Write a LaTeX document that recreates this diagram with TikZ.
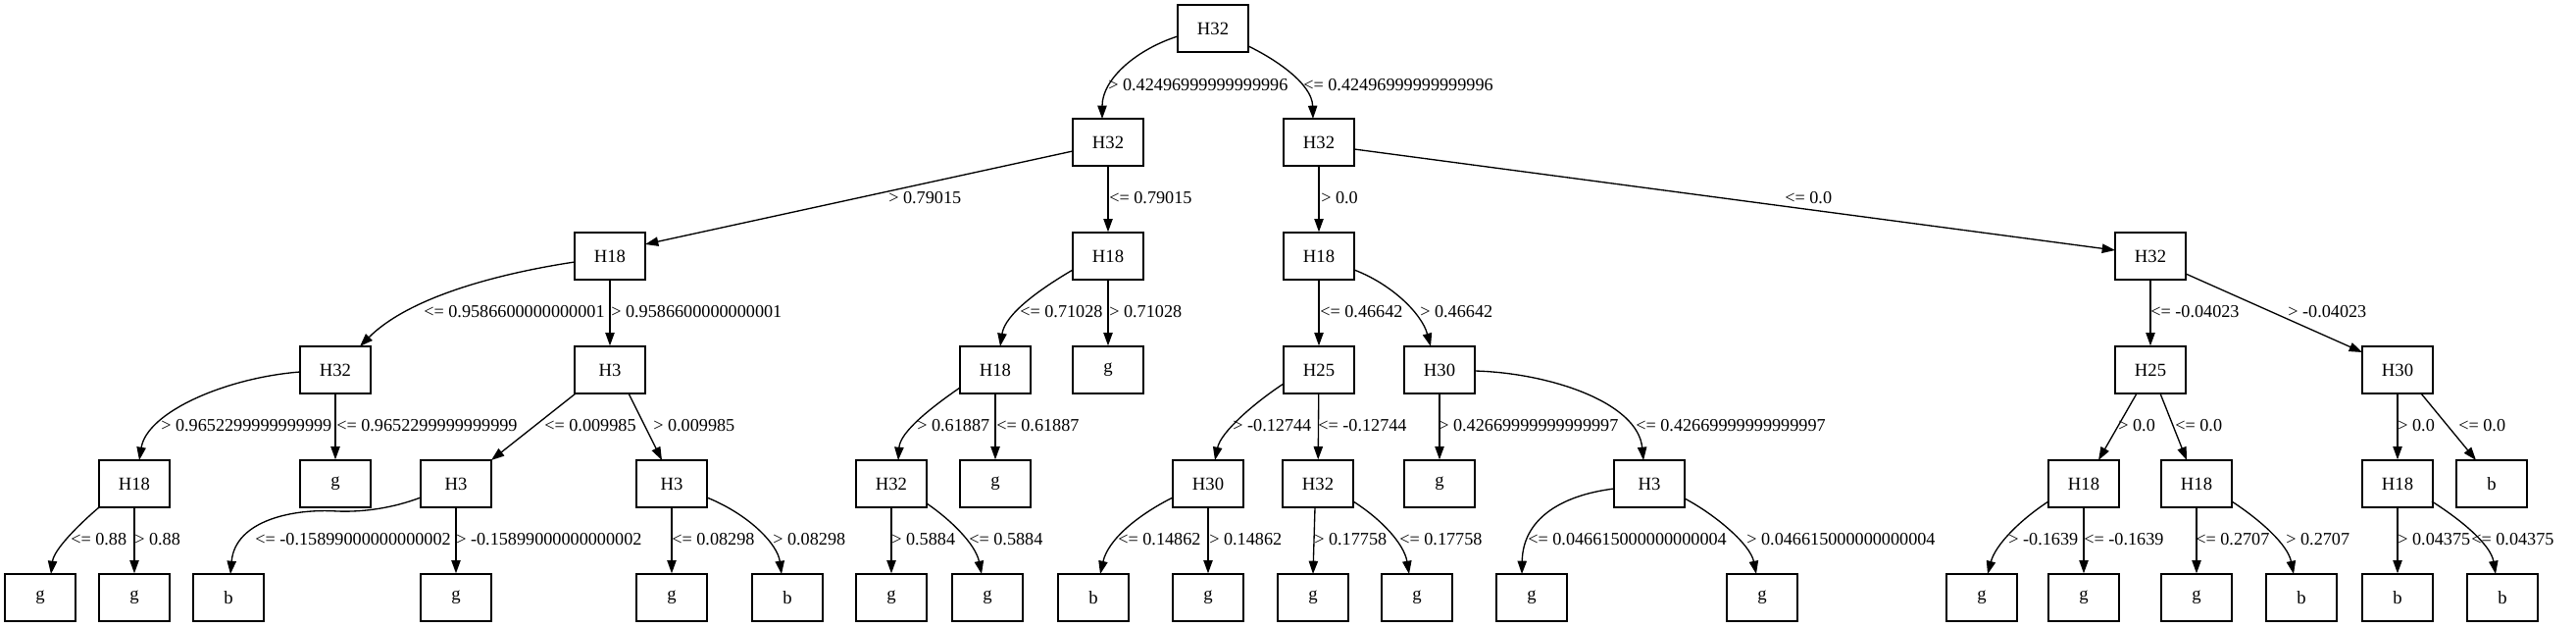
\documentclass[tikz,border=0pt]{standalone}
\usepackage{fontspec}
\setmainfont{Liberation Serif}
\usetikzlibrary{arrows.meta,calc}
\begin{document}
\begin{tikzpicture}[x=0.75pt,y=-0.75pt,
  box/.style={draw,line width=1pt,minimum width=54pt,minimum height=36pt,inner sep=0pt,font=\fontsize{14}{16}\selectfont},
  lbl/.style={inner sep=0pt,anchor=west,font=\fontsize{13.65}{16}\selectfont},
  edge/.style={draw,line width=1pt,-{Triangle[length=10pt,width=7pt]}}]
\useasboundingbox[fill=white] (0,0) rectangle (2627,639);
% level 0-2
\node[box] (n0) at (1237,29) {H32};
\node[box] (n1) at (1130,145) {H32};
\node[box] (n2) at (1345,145) {H32};
\node[box] (n3) at (622,261) {H18};
\node[box] (n4) at (1130,261) {H18};
\node[box] (n5) at (1345,261) {H18};
\node[box] (n6) at (2193,261) {H32};
% level 3
\node[box] (n7) at (342,377) {H32};
\node[box] (n8) at (622,377) {H3};
\node[box] (n9) at (1015,377) {H18};
\node[box] (n10) at (1130,377) {g};
\node[box] (n11) at (1345,377) {H25};
\node[box] (n12) at (1468,377) {H30};
\node[box] (n13) at (2193,377) {H25};
\node[box] (n14) at (2445,377) {H30};
% level 4
\node[box] (n15) at (137,493) {H18};
\node[box] (n16) at (342,493) {g};
\node[box] (n17) at (465,493) {H3};
\node[box] (n18) at (685,493) {H3};
\node[box] (n19) at (909,493) {H32};
\node[box] (n20) at (1015,493) {g};
\node[box] (n21) at (1232,493) {H30};
\node[box] (n22) at (1344,493) {H32};
\node[box] (n23) at (1468,493) {g};
\node[box] (n24) at (1682,493) {H3};
\node[box] (n25) at (2125,493) {H18};
\node[box] (n26) at (2240,493) {H18};
\node[box] (n27) at (2445,493) {H18};
\node[box] (n28) at (2541,493) {b};
% level 5
\node[box] (n29) at (41,609) {g};
\node[box] (n30) at (137,609) {g};
\node[box] (n31) at (233,609) {b};
\node[box] (n32) at (465,609) {g};
\node[box] (n33) at (685,609) {g};
\node[box] (n34) at (803,609) {b};
\node[box] (n35) at (909,609) {g};
\node[box] (n36) at (1007,609) {g};
\node[box] (n37) at (1115,609) {b};
\node[box] (n38) at (1232,609) {g};
\node[box] (n39) at (1339,609) {g};
\node[box] (n40) at (1445,609) {g};
\node[box] (n41) at (1562,609) {g};
\node[box] (n42) at (1797,609) {g};
\node[box] (n43) at (2021,609) {g};
\node[box] (n44) at (2125,609) {g};
\node[box] (n45) at (2240,609) {g};
\node[box] (n46) at (2347,609) {b};
\node[box] (n47) at (2445,609) {b};
\node[box] (n48) at (2552,609) {b};

% edges level 0-1
\draw[edge] ($(n0)+(-36,8)$) .. controls (1160,50) and (1124,80) .. ($(n1)+(-6,-24)$);
\draw[edge] ($(n0)+(36,18)$) .. controls (1300,60) and (1338,85) .. ($(n2)+(-6,-24)$);
% level 1-2
\draw[edge] ($(n1)+(-36,9)$) -- ($(n3)+(36,-12)$);
\draw[edge] (n1) -- (n4);
\draw[edge] (n2) -- (n5);
\draw[edge] ($(n2)+(36,7)$) -- ($(n6)+(-36,-6)$);
% level 2-3
\draw[edge] ($(n3)+(-36,6)$) .. controls (500,280) and (415,305) .. ($(n7)+(25,-24)$);
\draw[edge] (n3) -- (n8);
\draw[edge] ($(n4)+(-36,14)$) .. controls (1060,295) and (1025,320) .. ($(n9)+(5,-24)$);
\draw[edge] (n4) -- (n10);
\draw[edge] (n5) -- (n11);
\draw[edge] ($(n5)+(36,14)$) .. controls (1420,290) and (1450,320) .. ($(n12)+(-9,-24)$);
\draw[edge] (n6) -- (n13);
\draw[edge] ($(n6)+(36,18)$) -- ($(n14)+(-36,-18)$);
% level 3-4
\draw[edge] ($(n7)+(-36,2)$) .. controls (230,385) and (150,420) .. ($(n15)+(5,-24)$);
\draw[edge] (n7) -- (n16);
\draw[edge] ($(n8)+(-35,24)$) -- ($(n17)+(36,-24)$);
\draw[edge] ($(n8)+(19,24)$) -- ($(n18)+(-10,-24)$);
\draw[edge] ($(n9)+(-36,18)$) .. controls (950,415) and (918,440) .. ($(n19)+(7,-24)$);
\draw[edge] (n9) -- (n20);
\draw[edge] ($(n11)+(-36,14)$) .. controls (1280,410) and (1245,440) .. ($(n21)+(7,-24)$);
\draw[edge] (n11) -- (n22);
\draw[edge] (n12) -- (n23);
\draw[edge] ($(n12)+(36,1)$) .. controls (1580,380) and (1670,410) .. ($(n24)+(-6,-24)$);
\draw[edge] ($(n13)+(-14,24)$) -- ($(n25)+(15,-24)$);
\draw[edge] ($(n13)+(10,24)$) -- ($(n26)+(-10,-24)$);
\draw[edge] (n14) -- (n27);
\draw[edge] ($(n14)+(24,24)$) -- ($(n28)+(-16,-24)$);
% level 4-5
\draw[edge] ($(n15)+(-36,24)$) .. controls (80,535) and (55,560) .. ($(n29)+(11,-24)$);
\draw[edge] (n15) -- (n30);
\draw[edge] ($(n17)+(-36,14)$) .. controls (400,518) and (370,522) .. (344,521) .. controls (300,518) and (240,530) .. ($(n31)+(2,-24)$);
\draw[edge] (n17) -- (n32);
\draw[edge] (n18) -- (n33);
\draw[edge] ($(n18)+(36,14)$) .. controls (765,525) and (793,555) .. ($(n34)+(-6,-24)$);
\draw[edge] (n19) -- (n35);
\draw[edge] ($(n19)+(36,20)$) .. controls (970,530) and (995,555) .. ($(n36)+(-6,-24)$);
\draw[edge] ($(n21)+(-36,14)$) .. controls (1160,525) and (1130,550) .. ($(n37)+(7,-24)$);
\draw[edge] (n21) -- (n38);
\draw[edge] ($(n22)+(-3,24)$) -- ($(n39)+(0,-24)$);
\draw[edge] ($(n22)+(36,18)$) .. controls (1410,530) and (1432,555) .. ($(n40)+(-8,-24)$);
\draw[edge] ($(n24)+(-36,5)$) .. controls (1590,505) and (1553,530) .. ($(n41)+(-10,-24)$);
\draw[edge] ($(n24)+(36,15)$) .. controls (1750,525) and (1785,555) .. ($(n42)+(-6,-24)$);
\draw[edge] ($(n25)+(-36,18)$) .. controls (2060,530) and (2035,555) .. ($(n43)+(6,-24)$);
\draw[edge] (n25) -- (n44);
\draw[edge] (n26) -- (n45);
\draw[edge] ($(n26)+(36,18)$) .. controls (2305,530) and (2333,555) .. ($(n46)+(-8,-24)$);
\draw[edge] (n27) -- (n47);
\draw[edge] ($(n27)+(35,18)$) .. controls (2510,530) and (2540,555) .. ($(n48)+(-7,-24)$);

% labels
\node[lbl] (a1) at (1130,87) {> 0.42496999999999996};
\node[lbl] (a2) at (1329,87) {<= 0.42496999999999996};
\node[lbl] (b1) at (906,202) {> 0.79015};
\node[lbl] (b2) at (1131,202) {<= 0.79015};
\node[lbl] (b3) at (1347,202) {> 0.0};
\node[lbl] (b4) at (1820,202) {<= 0.0};
\node[lbl] (c1) at (432,318) {<= 0.9586600000000001};
\node[lbl] (c2) at (623,318) {> 0.9586600000000001};
\node[lbl] (c3) at (1040,318) {<= 0.71028};
\node[lbl] (c4) at (1131,318) {> 0.71028};
\node[lbl] (c5) at (1346,318) {<= 0.46642};
\node[lbl] (c6) at (1448,318) {> 0.46642};
\node[lbl] (c7) at (2193,318) {<= -0.04023};
\node[lbl] (c8) at (2333,318) {> -0.04023};
\node[lbl] (d1) at (164,434) {> 0.9652299999999999};
\node[lbl] (d2) at (343,434) {<= 0.9652299999999999};
\node[lbl] (d3) at (555,434) {<= 0.009985};
\node[lbl] (d4) at (666,434) {> 0.009985};
\node[lbl] (d5) at (935,434) {> 0.61887};
\node[lbl] (d6) at (1016,434) {<= 0.61887};
\node[lbl] (d7) at (1257,434) {> -0.12744};
\node[lbl] (d8) at (1344,434) {<= -0.12744};
\node[lbl] (d9) at (1467,434) {> 0.42669999999999997};
\node[lbl] (d10) at (1668,434) {<= 0.42669999999999997};
\node[lbl] (d11) at (2160,434) {> 0.0};
\node[lbl] (d12) at (2218,434) {<= 0.0};
\node[lbl] (d13) at (2445,434) {> 0.0};
\node[lbl] (d14) at (2507,434) {<= 0.0};
\node[lbl] (e1) at (72,550) {<= 0.88};
\node[lbl] (e2) at (137,550) {> 0.88};
\node[lbl] (e3) at (260,550) {<= -0.15899000000000002};
\node[lbl] (e4) at (465,550) {> -0.15899000000000002};
\node[lbl] (e5) at (685,550) {<= 0.08298};
\node[lbl] (e6) at (788,550) {> 0.08298};
\node[lbl] (e7) at (909,550) {> 0.5884};
\node[lbl] (e8) at (988,550) {<= 0.5884};
\node[lbl] (e9) at (1140,550) {<= 0.14862};
\node[lbl] (e10) at (1233,550) {> 0.14862};
\node[lbl] (e11) at (1340,550) {> 0.17758};
\node[lbl] (e12) at (1427,550) {<= 0.17758};
\node[lbl] (e13) at (1558,550) {<= 0.046615000000000004};
\node[lbl] (e14) at (1781,550) {> 0.046615000000000004};
\node[lbl] (e15) at (2048,550) {> -0.1639};
\node[lbl] (e16) at (2125,550) {<= -0.1639};
\node[lbl] (e17) at (2239,550) {<= 0.2707};
\node[lbl] (e18) at (2331,550) {> 0.2707};
\node[lbl] (e19) at (2445,550) {> 0.04375};
\node[lbl] (e20) at (2520,550) {<= 0.04375};
\end{tikzpicture}
\end{document}
